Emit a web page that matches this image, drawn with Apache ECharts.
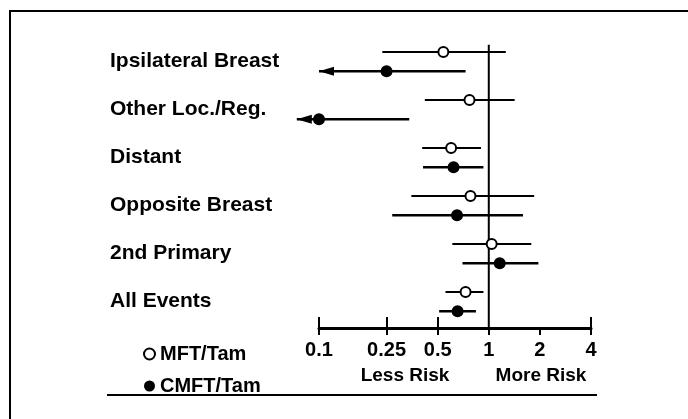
<!DOCTYPE html>
<html>
<head>
<meta charset="utf-8">
<script src="https://cdn.jsdelivr.net/npm/echarts@6/dist/echarts.min.js"></script>
<style>
  html, body { margin: 0; padding: 0; background: #fff; }
  #main { width: 688px; height: 419px; }
</style>
</head>
<body>
<div id="main"></div>
<script>
// outcome rows, top to bottom
const categories = ['Ipsilateral Breast', 'Other Loc./Reg.', 'Distant', 'Opposite Breast', '2nd Primary', 'All Events'];

// hazard ratios (MFT/Tam, open circles)
const mftEst  = [0.54, 0.77, 0.60, 0.78, 1.04, 0.73];
const mftLow  = [0.236, 0.42, 0.405, 0.35, 0.61, 0.556];
const mftHigh = [1.26, 1.42, 0.90, 1.85, 1.78, 0.93];

// hazard ratios (CMFT/Tam, filled circles)
const cmftEst  = [0.25, 0.10, 0.62, 0.65, 1.16, 0.655];
const cmftLow  = [0.10, 0.074, 0.41, 0.27, 0.70, 0.51];
const cmftHigh = [0.73, 0.34, 0.93, 1.59, 1.96, 0.84];
const cmftLowOpen = [1, 1, 0, 0, 0, 0]; // lower limit drawn as arrow

const tickValues = [0.1, 0.25, 0.5, 1, 2, 4];
const upTicks = [0.1, 0.25, 0.5, 4];
const refValue = 1;

const FONT = "'Liberation Sans', Arial, Helvetica, sans-serif";
const pairOffset = 0.4;

const mftPts = mftEst.map((v, i) => [v, i]);
const cmftPts = cmftEst.map((v, i) => [v, i + pairOffset]);
const mftBars = mftLow.map((v, i) => [v, mftHigh[i], i, 0]);
const cmftBars = cmftLow.map((v, i) => [v, cmftHigh[i], i + pairOffset, cmftLowOpen[i]]);

function barRenderer(width) {
  return function (params, api) {
    const lo = api.coord([api.value(0), api.value(2)]);
    const hi = api.coord([api.value(1), api.value(2)]);
    const children = [{
      type: 'line',
      shape: { x1: lo[0], y1: lo[1], x2: hi[0], y2: hi[1] },
      style: { stroke: '#000', lineWidth: width }
    }];
    if (api.value(3)) {
      children.push({
        type: 'polygon',
        shape: { points: [[lo[0], lo[1]], [lo[0] + 15, lo[1] - 4.5], [lo[0] + 15, lo[1] + 4.5]] },
        style: { fill: '#000' }
      });
    }
    return { type: 'group', children: children };
  };
}

const chart = echarts.init(document.getElementById('main'));
chart.setOption({
  animation: false,
  backgroundColor: '#fff',
  grid: { left: 319, right: 97, top: 28, bottom: 91, containLabel: false, outerBoundsMode: 'none' },
  legend: {
    data: ['MFT/Tam', 'CMFT/Tam'],
    orient: 'vertical',
    left: 143,
    top: 344,
    padding: 0,
    itemGap: 12,
    itemWidth: 11,
    itemHeight: 11,
    icon: 'circle',
    selectedMode: false,
    textStyle: { fontFamily: FONT, fontSize: 20, fontWeight: 'bold', color: '#000' }
  },
  xAxis: [{
    type: 'log',
    logBase: 10,
    min: 0.1,
    max: 4,
    position: 'bottom',
    axisLine: { show: true, onZero: false, lineStyle: { color: '#000', width: 3 } },
    axisTick: { show: true, inside: true, length: 11, customValues: upTicks, lineStyle: { color: '#000', width: 2 } },
    axisLabel: {
      customValues: tickValues,
      margin: 12,
      formatter: v => String(v),
      fontFamily: FONT, fontSize: 20, fontWeight: 'bold', color: '#000'
    },
    splitLine: { show: false },
    minorTick: { show: false }
  }, {
    type: 'log',
    logBase: 10,
    min: 0.1,
    max: 4,
    position: 'bottom',
    axisLine: { show: false, onZero: false },
    axisTick: { show: true, inside: false, length: 7, customValues: tickValues, lineStyle: { color: '#000', width: 2 } },
    axisLabel: { show: false },
    splitLine: { show: false }
  }],
  yAxis: {
    type: 'value',
    inverse: true,
    min: -0.5,
    max: 5.75,
    axisLine: { show: false },
    axisTick: { show: false },
    splitLine: { show: false },
    axisLabel: {
      customValues: categories.map((c, i) => i + 0.2),
      formatter: v => categories[Math.round(v - 0.2)],
      align: 'left',
      margin: 209,
      fontFamily: FONT, fontSize: 21, fontWeight: 'bold', color: '#000'
    }
  },
  graphic: [
    { type: 'rect', shape: { x: 10, y: 11, width: 720, height: 440 }, style: { fill: 'none', stroke: '#000', lineWidth: 2 } },
    { type: 'line', shape: { x1: 107, y1: 395, x2: 597, y2: 395 }, style: { stroke: '#000', lineWidth: 2 } },
    { type: 'text', x: 405, y: 376, style: { text: 'Less Risk', align: 'center', verticalAlign: 'middle', font: "bold 19px " + FONT, fill: '#000' } },
    { type: 'text', x: 541, y: 376, style: { text: 'More Risk', align: 'center', verticalAlign: 'middle', font: "bold 19px " + FONT, fill: '#000' } }
  ],
  series: [
    {
      type: 'line',
      data: [[refValue, -0.15], [refValue, 5.75]],
      symbol: 'none',
      lineStyle: { color: '#000', width: 2 },
      silent: true,
      z: 1
    },
    {
      type: 'custom',
      renderItem: barRenderer(2),
      encode: { x: [0, 1], y: 2 },
      data: mftBars,
      clip: false,
      z: 2
    },
    {
      type: 'custom',
      renderItem: barRenderer(2.5),
      encode: { x: [0, 1], y: 2 },
      data: cmftBars,
      clip: false,
      z: 2
    },
    {
      name: 'MFT/Tam',
      type: 'scatter',
      data: mftPts,
      symbol: 'circle',
      symbolSize: 10,
      clip: false,
      itemStyle: { color: '#fff', borderColor: '#000', borderWidth: 2, opacity: 1 },
      z: 3
    },
    {
      name: 'CMFT/Tam',
      type: 'scatter',
      data: cmftPts,
      symbol: 'circle',
      symbolSize: 12,
      clip: false,
      itemStyle: { color: '#000', opacity: 1 },
      z: 3
    }
  ]
});
</script>
</body>
</html>
